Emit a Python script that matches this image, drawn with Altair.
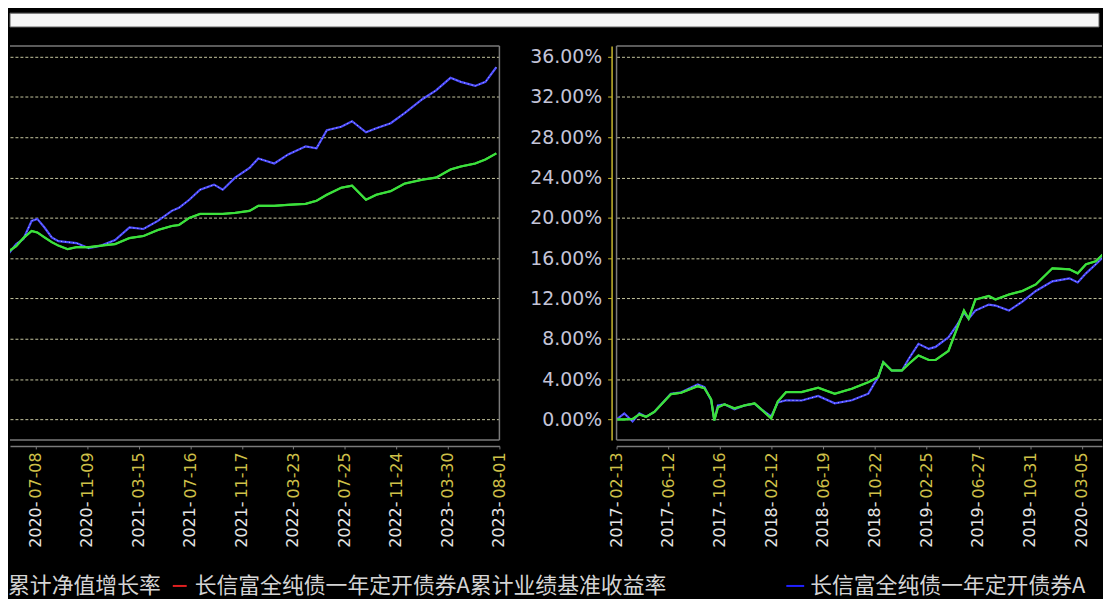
import altair as alt
import pandas as pd

# ---------------- data ----------------
t_pos = [0.00, 0.15, 0.31, 0.44, 0.57, 0.73, 1.05, 1.25, 1.57, 1.70, 1.83, 1.89, 1.96, 2.09,
         2.28, 2.48, 2.67, 2.80, 2.99, 3.12, 3.28, 3.58, 3.90, 4.22, 4.55, 4.87, 5.06, 5.16,
         5.32, 5.52, 5.65, 5.84, 6.04, 6.17, 6.42, 6.59, 6.72, 6.81, 6.94, 7.20, 7.33, 7.59,
         7.85, 8.11, 8.43, 8.76, 8.92, 9.08, 9.27, 9.45, 9.62, 9.76, 9.92, 10.03, 10.17,
         10.31, 10.44, 10.62, 10.79, 11.03, 11.27, 11.54, 11.82, 12.09, 12.37, 12.64, 12.78,
         12.98, 13.19, 13.46, 13.63, 13.87, 14.15, 14.32, 14.63, 14.90, 15.24, 15.45, 15.65,
         15.93, 16.14, 16.41, 16.61, 16.89, 17.16, 17.51, 17.77, 18.05, 18.25, 18.53, 18.73,
         18.94]
fund = [0.0, 0.6, -0.2, 0.6, 0.26, 0.75, 2.56, 2.7, 3.48, 3.2, 1.9, -0.07, 1.4, 1.5,
        1.0, 1.4, 1.57, 1.0, 0.3, 1.7, 1.9, 1.88, 2.33, 1.6, 1.9, 2.56, 4.2, 5.67,
        4.86, 4.86, 6.0, 7.5, 7.0, 7.2, 8.15, 9.4, 10.6, 10.0, 10.8, 11.4, 11.3, 10.8,
        11.7, 12.75, 13.7, 14.0, 13.6, 14.5, 15.4, 16.3, 17.4, 17.9, 19.7, 19.9, 19.05,
        18.07, 17.7, 17.6, 17.5, 17.0, 17.25, 17.8, 19.05, 18.9, 19.7, 20.7, 21.0,
        21.8, 22.8, 23.3, 22.8, 24.0, 24.95, 25.9, 25.4, 26.3, 27.1, 26.9, 28.7,
        29.05, 29.6, 28.5, 28.9, 29.4, 30.4, 31.8, 32.66, 33.9, 33.5, 33.1, 33.5,
        34.95]
bench = [0.0, 0.0, 0.05, 0.5, 0.26, 0.75, 2.5, 2.65, 3.3, 3.1, 2.0, -0.1, 1.2, 1.5,
         1.1, 1.4, 1.6, 1.0, 0.1, 1.8, 2.72, 2.72, 3.15, 2.55, 3.05, 3.7, 4.2, 5.67,
         4.86, 4.86, 5.5, 6.35, 5.9, 5.9, 6.8, 9.1, 10.8, 10.0, 11.9, 12.25, 11.9, 12.4,
         12.75, 13.4, 15.0, 14.9, 14.5, 15.4, 15.7, 16.6, 17.2, 18.0, 18.7, 18.56, 18.07,
         17.6, 17.25, 16.9, 17.1, 17.1, 17.25, 17.4, 18.0, 18.2, 18.8, 19.2, 19.3,
         20.0, 20.4, 20.4, 20.4, 20.5, 20.7, 21.2, 21.2, 21.3, 21.4, 21.7, 22.3,
         23.0, 23.2, 21.8, 22.3, 22.66, 23.4, 23.8, 24.0, 24.8, 25.1, 25.4, 25.8,
         26.4]

fund_name = "长信富全纯债一年定开债券A累计净值增长率"
bench_name = "长信富全纯债一年定开债券A累计业绩基准收益率"
series_names = [fund_name, bench_name]
series_colors = ["#4a4aff", "#3ce03c"]

tick_idx = list(range(20))
tick_mmdd = ["02-13", "06-12", "10-16", "02-12", "06-19", "10-22", "02-25", "06-27", "10-31", "03-05",
             "07-08", "11-09", "03-15", "07-16", "11-17", "03-23", "07-25", "11-24", "03-30", "08-01"]
tick_year = ["2017-", "2017-", "2017-", "2018-", "2018-", "2018-", "2019-", "2019-", "2019-", "2020-",
             "2020-", "2020-", "2021-", "2021-", "2021-", "2022-", "2022-", "2022-", "2023-", "2023-"]
y_ticks = [0, 4, 8, 12, 16, 20, 24, 28, 32, 36]

# ---------------- tables ----------------
wide = pd.DataFrame({"t": t_pos, fund_name: fund, bench_name: bench})
long_df = wide.melt("t", var_name="series", value_name="v")
ticks_df = pd.DataFrame({"t": tick_idx, "mmdd": tick_mmdd, "year": tick_year})
one = alt.Data(values=[{}])

H = 397
YDOM = [-2.04, 37.07]
FRAME = "#7a7a7a"
GRID = "#c8c8a0"
mmdd_expr = "[" + ",".join("'%s'" % s for s in tick_mmdd) + "][datum.value]"


def panel(xdom, xvals, width, show_y):
    xscale = alt.Scale(domain=xdom, nice=False, zero=False)
    yscale = alt.Scale(domain=YDOM, nice=False, zero=False)
    xaxis = alt.Axis(values=xvals, labelExpr=mmdd_expr, labelAngle=270, labelColor="#cfc048",
                     labelFontSize=16, labelFont="DejaVu Sans", labelPadding=3, offset=6,
                     domainColor=FRAME, domainWidth=1.5, tickColor=FRAME, tickSize=3,
                     grid=False, title=None, labelOverlap=False, labelBound=False, labelFlush=False)
    if show_y:
        yaxis = alt.Axis(values=y_ticks, labelExpr="format(datum.value, '.2f') + '%'",
                         labelColor="#c4c4d8", labelFontSize=19, labelFont="DejaVu Sans",
                         labelPadding=6, offset=5, domainColor="#c8b830", domainWidth=1.5,
                         tickColor="#c8b830", tickSize=4, grid=True, gridColor=GRID,
                         gridDash=[3, 2], gridWidth=1, title=None)
    else:
        yaxis = alt.Axis(values=y_ticks, labels=False, ticks=False, domain=False, grid=True,
                         gridColor=GRID, gridDash=[3, 2], gridWidth=1, title=None,
                         minExtent=0, maxExtent=0)

    lines = alt.Chart(long_df).mark_line(clip=True, strokeWidth=2.2).encode(
        x=alt.X("t:Q", scale=xscale, axis=xaxis),
        y=alt.Y("v:Q", scale=yscale, axis=yaxis),
        color=alt.Color("series:N", scale=alt.Scale(domain=series_names, range=series_colors),
                        legend=None),
        order=alt.Order("t:Q"),
    )
    sparkle = alt.Chart(long_df).transform_filter(
        alt.datum.series == fund_name
    ).mark_line(clip=True, strokeWidth=1, color="#c0c0ff", strokeDash=[1, 3]).encode(
        x="t:Q", y="v:Q", order="t:Q")
    bench_line = alt.Chart(long_df).transform_filter(
        alt.datum.series == bench_name
    ).mark_line(clip=True, strokeWidth=2, color="#3ce03c").encode(
        x="t:Q", y="v:Q", order="t:Q")
    years = alt.Chart(ticks_df).transform_filter(
        (alt.datum.t >= xdom[0] - 0.01) & (alt.datum.t <= xdom[1] + 0.01)
    ).mark_text(angle=270, align="right", baseline="middle", fontSize=16,
                font="DejaVu Sans", color="#e4e4e4").encode(
        x="t:Q", y=alt.value(H + 62), text="year:N")
    top = alt.Chart(one).mark_rule(color=FRAME, strokeWidth=1.5).encode(
        x=alt.value(0), x2=alt.value(width), y=alt.value(0))
    bottom = alt.Chart(one).mark_rule(color=FRAME, strokeWidth=1.5).encode(
        x=alt.value(0), x2=alt.value(width), y=alt.value(H))
    side_x = width if not show_y else 0
    side = alt.Chart(one).mark_rule(color=FRAME, strokeWidth=1.5).encode(
        x=alt.value(side_x), y=alt.value(0), y2=alt.value(H))
    return alt.layer(lines, sparkle, bench_line, years, top, bottom, side).properties(
        width=width, height=H)


left = panel([9.5, 19.0], tick_idx[10:], 493, False)
right = panel([0.0, 9.39], tick_idx[:10], 489, True)

TOTAL_W = 1097
topbar = alt.Chart(one).mark_rect(color="#f6f6f6", stroke="#606060", strokeWidth=1).encode(
    x=alt.value(0), x2=alt.value(TOTAL_W), y=alt.value(0), y2=alt.value(14)
).properties(width=TOTAL_W, height=14)

legend_items = pd.DataFrame({"label": [fund_name[13:], bench_name, fund_name[:13]]})
LEG_Y = 18
txt_style = dict(align="left", baseline="middle", fontSize=22, font="Noto Sans CJK SC",
                 color="#d4d4d4")
leg1 = alt.Chart(legend_items.iloc[[0]]).mark_text(**txt_style).encode(
    x=alt.value(-2), y=alt.value(LEG_Y), text="label:N")
leg_red = alt.Chart(one).mark_rule(color="#e02020", strokeWidth=2).encode(
    x=alt.value(164), x2=alt.value(178), y=alt.value(LEG_Y))
leg2 = alt.Chart(legend_items.iloc[[1]]).mark_text(**txt_style).encode(
    x=alt.value(186), y=alt.value(LEG_Y), text="label:N")
leg_blue = alt.Chart(one).mark_rule(color="#2020ff", strokeWidth=2).encode(
    x=alt.value(782), x2=alt.value(800), y=alt.value(LEG_Y))
leg3 = alt.Chart(legend_items.iloc[[2]]).mark_text(**txt_style).encode(
    x=alt.value(806), y=alt.value(LEG_Y), text="label:N")
legend_row = alt.layer(leg1, leg_red, leg2, leg_blue, leg3).properties(width=TOTAL_W, height=28)

body = alt.vconcat(alt.hconcat(left, right, spacing=21), legend_row, spacing=20)
chart = alt.vconcat(topbar, body, spacing=17).properties(
    padding={"left": 0, "top": 2, "right": 0, "bottom": 3}
).configure(background="black").configure_view(stroke=None)

chart.save("out.html", embed_options={"renderer": "svg", "actions": False})
